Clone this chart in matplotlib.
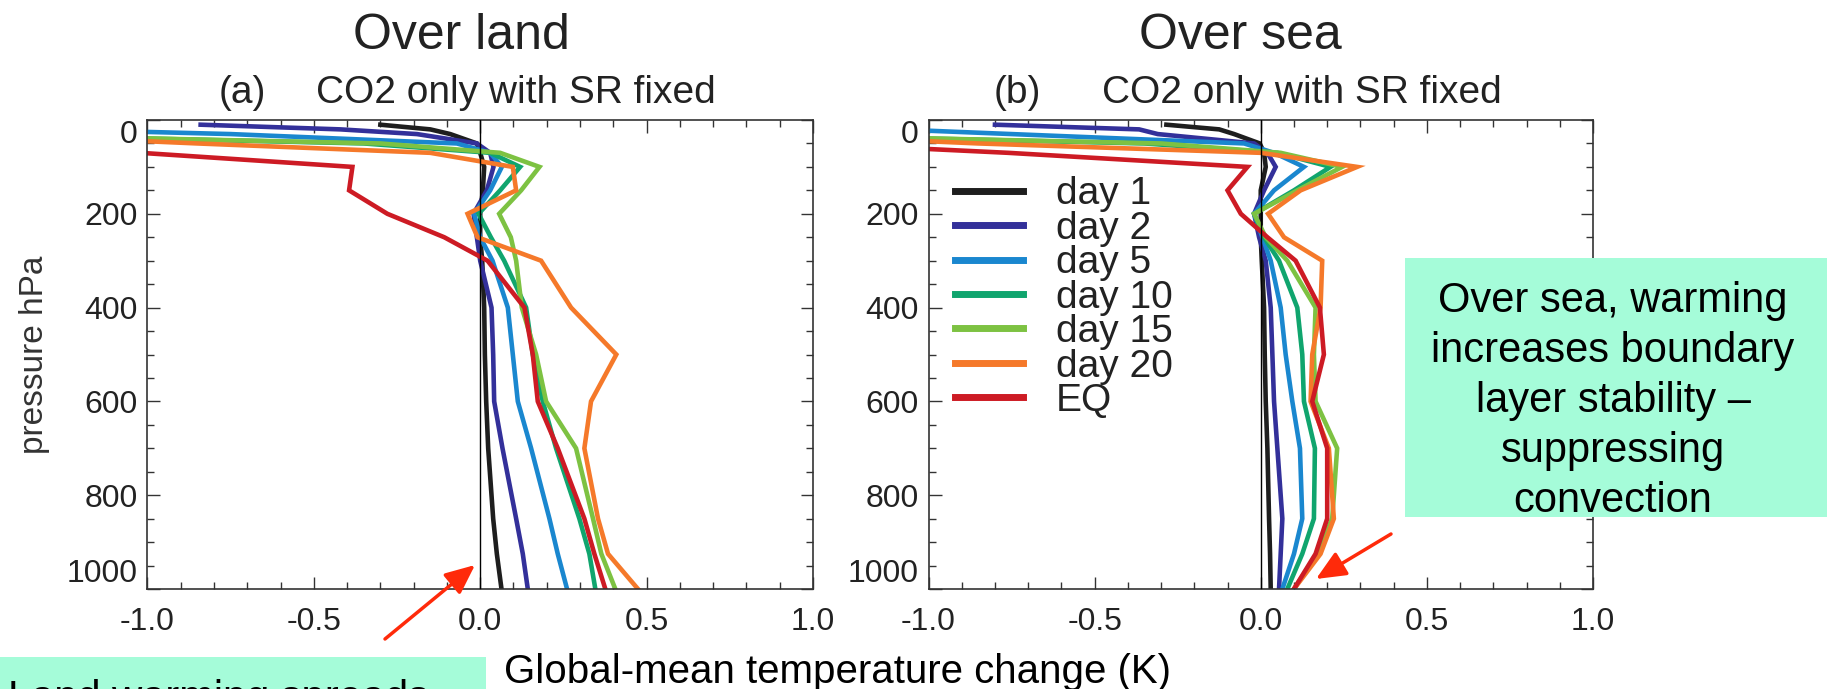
import numpy as np
import matplotlib
matplotlib.use("Agg")
import matplotlib.pyplot as plt
from matplotlib.ticker import MultipleLocator, FixedLocator

plt.rcParams['font.family'] = ['Liberation Sans', 'DejaVu Sans']
plt.rcParams['axes.unicode_minus'] = False

# pressure levels (hPa)
levels = [10, 20, 30, 50, 70, 100, 150, 200, 250, 300, 400, 500, 600, 700, 850, 925, 1000]

series_names = ['day 1', 'day 2', 'day 5', 'day 10', 'day 15', 'day 20', 'EQ']
series_colors = ['#1e1e1e', '#33309a', '#1a87cf', '#10a56e', '#7dc242', '#f5792a', '#cd1b24']

# over land, temperature change (K)
land_day1 = [-0.30, -0.15, -0.09, -0.01, 0.00, 0.012, 0.008, 0.00, 0.00, 0.006, 0.012, 0.014, 0.018, 0.024, 0.039, 0.050, 0.064]
land_day2 = [-0.84, -0.42, -0.19, -0.01, 0.03, 0.04, 0.02, -0.02, -0.01, 0.0, 0.034, 0.039, 0.042, 0.067, 0.108, 0.128, 0.143]
land_day5 = [-3.0, -1.3, -0.75, -0.07, 0.03, 0.065, 0.03, -0.018, 0.0, 0.037, 0.083, 0.098, 0.113, 0.153, 0.208, 0.233, 0.261]
land_day10 = [-3.0, -2.5, -1.6, -0.35, 0.03, 0.12, 0.06, -0.005, 0.032, 0.072, 0.138, 0.158, 0.188, 0.228, 0.298, 0.328, 0.346]
land_day15 = [-3.0, -2.5, -1.6, -0.30, 0.06, 0.178, 0.123, 0.057, 0.092, 0.108, 0.125, 0.168, 0.198, 0.288, 0.339, 0.364, 0.406]
land_day20 = [-3.0, -3.0, -1.5, -0.85, -0.15, 0.098, 0.108, -0.038, -0.008, 0.183, 0.273, 0.409, 0.333, 0.313, 0.354, 0.384, 0.474]
land_eq = [-5.0, -4.0, -3.0, -2.0, -1.02, -0.384, -0.394, -0.279, -0.108, 0.022, 0.133, 0.158, 0.173, 0.233, 0.313, 0.343, 0.376]

# over sea
sea_day1 = [-0.284, -0.125, -0.08, -0.003, 0.01, 0.015, 0.0, 0.0, 0.0, 0.003, 0.01, 0.012, 0.015, 0.02, 0.025, 0.028, 0.03]
sea_day2 = [-0.80, -0.366, -0.31, -0.02, 0.02, 0.045, 0.01, -0.02, -0.005, 0.015, 0.03, 0.035, 0.04, 0.05, 0.065, 0.06, 0.055]
sea_day5 = [-3.0, -1.1, -0.75, -0.05, 0.04, 0.13, 0.04, -0.02, 0.005, 0.03, 0.06, 0.075, 0.095, 0.118, 0.125, 0.10, 0.065]
sea_day10 = [-3.0, -2.5, -1.6, -0.35, 0.05, 0.21, 0.10, -0.02, 0.01, 0.055, 0.11, 0.125, 0.13, 0.163, 0.16, 0.125, 0.08]
sea_day15 = [-3.0, -2.5, -1.6, -0.30, 0.06, 0.245, 0.11, -0.02, 0.015, 0.08, 0.165, 0.16, 0.165, 0.23, 0.215, 0.17, 0.10]
sea_day20 = [-3.0, -3.0, -1.5, -0.85, 0.0, 0.29, 0.12, 0.022, 0.07, 0.185, 0.18, 0.155, 0.15, 0.205, 0.22, 0.18, 0.10]
sea_eq = [-5.0, -4.0, -3.0, -1.35, -0.76, -0.04, -0.10, -0.06, 0.02, 0.105, 0.178, 0.19, 0.155, 0.20, 0.20, 0.165, 0.10]

land = [land_day1, land_day2, land_day5, land_day10, land_day15, land_day20, land_eq]
sea = [sea_day1, sea_day2, sea_day5, sea_day10, sea_day15, sea_day20, sea_eq]

xticks = [-1.0, -0.5, 0.0, 0.5, 1.0]
yticks = [0, 200, 400, 600, 800, 1000]

W, H = 1827, 689
fig = plt.figure(figsize=(W / 100, H / 100), dpi=100)

def px_box(x0, y0, x1, y1):
    # pixel box (top-left origin) -> figure fraction
    return [x0 / W, 1 - y1 / H, (x1 - x0) / W, (y1 - y0) / H]

ax1 = fig.add_axes(px_box(147.4, 120, 813, 589))
ax2 = fig.add_axes(px_box(928.5, 120, 1593, 589))

for ax, data in [(ax1, land), (ax2, sea)]:
    for vals, name, col in zip(data, series_names, series_colors):
        ax.plot(vals, levels, color=col, lw=3.3, label=name, solid_joinstyle='miter')
    ax.axvline(0, color='black', lw=1.0, zorder=5)
    ax.set_xlim(-1, 1)
    ax.set_ylim(1000, 0)
    ax.xaxis.set_major_locator(FixedLocator(xticks))
    ax.xaxis.set_minor_locator(MultipleLocator(0.1))
    ax.yaxis.set_major_locator(FixedLocator(yticks))
    ax.yaxis.set_minor_locator(MultipleLocator(50))
    ax.set_xticklabels(['%.1f' % t for t in xticks])
    ax.set_yticklabels([str(t) for t in yticks])
    ax.tick_params(which='both', direction='in', top=True, right=True, width=1.0, color='#333333')
    ax.tick_params(which='major', length=9, labelsize=23, labelcolor='#222222')
    ax.tick_params(which='minor', length=5)
    ax.tick_params(axis='x', pad=13)
    ax.tick_params(axis='y', pad=7)
    for s in ax.spines.values():
        s.set_linewidth(1.2)
        s.set_color('#333333')
    ylab = ax.get_yticklabels()
    ylab[0].set_va('top')
    ylab[-1].set_va('bottom')

ax1.set_ylabel('pressure hPa', fontsize=24, color='#333333', labelpad=12)

leg = ax2.legend(loc='upper left', bbox_to_anchor=(0.04, 0.88), frameon=False,
                 fontsize=28, handlelength=1.75, handletextpad=0.85,
                 labelspacing=-0.04, borderpad=0, borderaxespad=0)
for ln in leg.get_lines():
    ln.set_linewidth(5)
for t in leg.get_texts():
    t.set_color('#222222')

def ftext(x, y, s, **kw):
    fig.text(x / W, 1 - y / H, s, **kw)

# titles
ftext(461, 49, 'Over land', fontsize=36, ha='center', va='baseline', color='#222222')
ftext(1240, 49, 'Over sea', fontsize=36, ha='center', va='baseline', color='#222222')
ftext(219, 103, '(a)', fontsize=28, ha='left', va='baseline', color='#222222')
ftext(316, 103, 'CO2 only with SR fixed', fontsize=28, ha='left', va='baseline', color='#222222')
ftext(994, 103, '(b)', fontsize=28, ha='left', va='baseline', color='#222222')
ftext(1102, 103, 'CO2 only with SR fixed', fontsize=28, ha='left', va='baseline', color='#222222')

# shared x label
ftext(838, 683, 'Global-mean temperature change (K)', fontsize=29, ha='center', va='baseline', color='black')

# annotation boxes
box_color = '#a5fcd9'
fig.patches.append(plt.Rectangle((1405 / W, 1 - 516.7 / H), (W - 1405) / W, (516.7 - 258.3) / H,
                                 transform=fig.transFigure, facecolor=box_color, edgecolor='none', zorder=0))
fig.patches.append(plt.Rectangle((0, 0), 486 / W, (H - 657) / H,
                                 transform=fig.transFigure, facecolor=box_color, edgecolor='none', zorder=0))

sea_note = ['Over sea, warming', 'increases boundary', 'layer stability \u2013', 'suppressing', 'convection']
for i, line in enumerate(sea_note):
    ftext(1613, 311.7 + 50 * i, line, fontsize=30, ha='center', va='baseline', color='black')
ftext(8, 710, 'Land warming spreads', fontsize=30, ha='left', va='baseline', color='black')

# arrows
arrow_kw = dict(arrowstyle='-|>,head_length=0.9,head_width=0.4', color='#ff2a0a', lw=2.5, shrinkA=0, shrinkB=0)
fig.add_artist(matplotlib.patches.FancyArrowPatch((385 / W, 1 - 639 / H), (475 / W, 1 - 565 / H),
                                                  transform=fig.transFigure, mutation_scale=20, **arrow_kw))
fig.add_artist(matplotlib.patches.FancyArrowPatch((1391 / W, 1 - 534 / H), (1316 / W, 1 - 579 / H),
                                                  transform=fig.transFigure, mutation_scale=20, **arrow_kw))

fig.savefig('out.png', dpi=100)
